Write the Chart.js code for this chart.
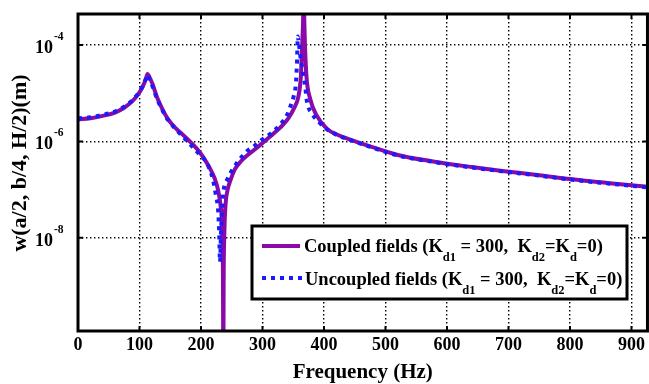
<!DOCTYPE html>
<html>
<head>
<meta charset="utf-8">
<script src="https://cdn.jsdelivr.net/npm/chart.js@4.4.1/dist/chart.umd.min.js"></script>
<style>
    body { margin: 0; background: #fff; }
</style>
</head>
<body>
<canvas id="freq_chart" width="649" height="384"></canvas>
<script>
//Данные
var coupled_freq = [0, 20, 40, 60, 75, 88, 98, 105, 110, 113, 116, 121, 129, 138, 146, 160, 172, 185, 200, 212, 222, 228, 232, 234.5, 235.8, 236.3, 236.8, 238, 240, 243, 248, 255, 265, 275, 290, 302, 315, 330, 342, 351, 358.5, 362.4, 364.6, 366, 367, 368, 369, 371.5, 377.6, 388, 405, 420, 438, 470, 520, 580, 640, 690, 750, 800, 860, 926];
var coupled_w = [2.88e-6, 3.02e-6, 3.39e-6, 3.98e-6, 5.01e-6, 6.76e-6, 9.55e-6, 1.35e-5, 1.91e-5, 2.51e-5, 2.19e-5, 1.58e-5, 7.94e-6, 4.47e-6, 2.95e-6, 1.82e-6, 1.32e-6, 9.12e-7, 5.50e-7, 3.16e-7, 1.74e-7, 9.55e-8, 4.47e-8, 1.58e-8, 1.0e-9, 1e-11, 1.0e-9, 1.26e-8, 5.01e-8, 9.55e-8, 1.58e-7, 2.63e-7, 3.89e-7, 5.13e-7, 7.24e-7, 9.77e-7, 1.35e-6, 2.00e-6, 3.02e-6, 4.79e-6, 8.71e-6, 2.24e-5, 1.07e-4, 3.16e-4, 1.58e-3, 3.16e-4, 1.07e-4, 2.24e-5, 7.59e-6, 3.47e-6, 1.82e-6, 1.41e-6, 1.15e-6, 8.32e-7, 5.25e-7, 3.80e-7, 2.95e-7, 2.45e-7, 2.00e-7, 1.66e-7, 1.38e-7, 1.15e-7];

var uncoupled_freq = [0, 20, 40, 60, 75, 88, 98, 105, 110, 113, 116, 121, 129, 138, 146, 160, 172, 189, 200, 208, 219, 224, 228, 229.5, 231, 232.5, 234.5, 236.8, 243, 250.4, 261, 275, 288, 300, 313, 330, 340, 346, 351, 354, 356, 357.5, 359, 362.4, 365.7, 369.5, 372, 381, 392, 405, 420, 438, 470, 520, 580, 640, 690, 750, 800, 860, 926];
var uncoupled_w = [3.02e-6, 3.16e-6, 3.55e-6, 4.17e-6, 5.25e-6, 7.08e-6, 1.0e-5, 1.38e-5, 1.95e-5, 2.40e-5, 2.0e-5, 1.41e-5, 7.41e-6, 4.27e-6, 2.82e-6, 1.74e-6, 1.20e-6, 7.08e-7, 5.01e-7, 3.80e-7, 1.70e-7, 7.94e-8, 3.47e-8, 1.35e-8, 3.16e-9, 1.26e-8, 4.47e-8, 9.77e-8, 1.66e-7, 2.51e-7, 3.98e-7, 6.31e-7, 8.32e-7, 1.10e-6, 1.45e-6, 2.34e-6, 3.55e-6, 5.62e-6, 8.91e-6, 1.45e-5, 3.98e-5, 1.51e-4, 1.12e-4, 4.90e-5, 2.82e-5, 1.38e-5, 7.08e-6, 3.72e-6, 2.51e-6, 1.78e-6, 1.38e-6, 1.12e-6, 8.13e-7, 5.13e-7, 3.72e-7, 2.88e-7, 2.40e-7, 1.95e-7, 1.62e-7, 1.35e-7, 1.12e-7];

var x_ticks = [0, 100, 200, 300, 400, 500, 600, 700, 800, 900];
var y_ticks = [1e-8, 1e-6, 1e-4];

var legend_coupled = ['Coupled fields (K', 'd1', ' = 300,  K', 'd2', '=K', 'd', '=0)'];
var legend_uncoupled = ['Uncoupled fields (K', 'd1', ' = 300,  K', 'd2', '=K', 'd', '=0)'];

var purple = '#8a0aa8';
var blue = '#1a1aff';
var serif = '"Liberation Serif", "Times New Roman", serif';

function toPoints(xs, ys) {
    var pts = [];
    for (var i = 0; i < xs.length; i++) pts.push({x: xs[i], y: ys[i]});
    return pts;
}

// текст с подстрочными индексами (нечетные элементы - индексы)
function drawSubText(ctx, parts, x, y) {
    for (var i = 0; i < parts.length; i++) {
        var sub = i % 2 == 1;
        ctx.font = 'bold ' + (sub ? '12.5px ' : '18.5px ') + serif;
        ctx.fillText(parts[i], x, sub ? y + 9 : y);
        x += ctx.measureText(parts[i]).width;
    }
}

/* --------------------- рамка, подписи оси Y, легенда --------------------- */
var framePlugin = {
    id: 'frame',
    afterDraw: function (chart) {
        var ctx = chart.ctx;
        var a = chart.chartArea;
        var xs = chart.scales.x, ys = chart.scales.y;
        ctx.save();
        ctx.fillStyle = '#000';
        ctx.strokeStyle = '#000';

        // риски
        ctx.lineWidth = 2;
        x_ticks.forEach(function (v) {
            var px = xs.getPixelForValue(v);
            ctx.beginPath();
            ctx.moveTo(px, a.bottom); ctx.lineTo(px, a.bottom - 5);
            ctx.moveTo(px, a.top); ctx.lineTo(px, a.top + 5);
            ctx.stroke();
        });
        y_ticks.forEach(function (v) {
            var py = ys.getPixelForValue(v);
            ctx.beginPath();
            ctx.moveTo(a.left, py); ctx.lineTo(a.left + 5, py);
            ctx.moveTo(a.right, py); ctx.lineTo(a.right - 5, py);
            ctx.stroke();

            // подписи 10^n
            var exp = Math.round(Math.log10(v));
            ctx.textBaseline = 'alphabetic';
            ctx.textAlign = 'right';
            ctx.font = 'bold 18px ' + serif;
            ctx.fillText('10', a.left - 25, py + 8);
            ctx.textAlign = 'left';
            ctx.font = 'bold 11.5px ' + serif;
            ctx.fillText(String(exp), a.left - 24, py - 5);
        });

        // рамка
        ctx.lineWidth = 3;
        ctx.strokeRect(a.left, a.top, a.right - a.left, a.bottom - a.top);

        // название оси Y
        ctx.save();
        ctx.translate(20, 163);
        ctx.rotate(-Math.PI / 2);
        ctx.textAlign = 'center';
        ctx.textBaseline = 'middle';
        ctx.font = 'bold 22px ' + serif;
        ctx.fillText('w(a/2, b/4, H/2)(m)', 0, 0);
        ctx.restore();

        // легенда
        ctx.fillStyle = '#fff';
        ctx.fillRect(252, 226, 375, 73);
        ctx.lineWidth = 3;
        ctx.strokeRect(252, 226, 375, 73);

        ctx.lineWidth = 4;
        ctx.strokeStyle = purple;
        ctx.beginPath(); ctx.moveTo(262, 246); ctx.lineTo(300, 246); ctx.stroke();
        ctx.strokeStyle = blue;
        ctx.setLineDash([4, 5]);
        ctx.beginPath(); ctx.moveTo(262, 278); ctx.lineTo(302, 278); ctx.stroke();
        ctx.setLineDash([]);

        ctx.fillStyle = '#000';
        ctx.textAlign = 'left';
        ctx.textBaseline = 'alphabetic';
        drawSubText(ctx, legend_coupled, 304, 252);
        drawSubText(ctx, legend_uncoupled, 305, 285);
        ctx.restore();
    }
};

var ctx = document.getElementById('freq_chart').getContext('2d');
var chart = new Chart(ctx, {
    type: 'line',
    data: {
        datasets: [{
            label: 'Coupled fields (Kd1 = 300, Kd2=Kd=0)',
            data: toPoints(coupled_freq, coupled_w),
            borderColor: purple,
            borderWidth: 4,
            pointRadius: 0,
            fill: false,
            cubicInterpolationMode: 'monotone',
            clip: 0,
            order: 1
        }, {
            label: 'Uncoupled fields (Kd1 = 300, Kd2=Kd=0)',
            data: toPoints(uncoupled_freq, uncoupled_w),
            borderColor: blue,
            borderWidth: 4,
            borderDash: [4, 5],
            borderCapStyle: 'butt',
            pointRadius: 0,
            fill: false,
            cubicInterpolationMode: 'monotone',
            clip: 0,
            order: 0
        }]
    },
    options: {
        responsive: false,
        animation: false,
        layout: { padding: { left: 0, top: 14, right: 1, bottom: 0 } },
        plugins: {
            legend: { display: false },
            tooltip: { enabled: false }
        },
        scales: {
            x: {
                type: 'linear',
                min: 0,
                max: 926,
                afterBuildTicks: function (s) { s.ticks = x_ticks.map(function (v) { return {value: v}; }); },
                afterFit: function (s) { s.height = 53; },
                ticks: {
                    color: '#000',
                    padding: 4,
                    maxRotation: 0,
                    autoSkip: false,
                    font: { family: serif, size: 18, weight: 'bold' }
                },
                grid: { color: '#000', lineWidth: 1.4, drawTicks: false },
                border: { display: false, dash: [1.4, 2.6] },
                title: {
                    display: true,
                    text: 'Frequency (Hz)',
                    color: '#000',
                    font: { family: serif, size: 21, weight: 'bold', lineHeight: 1 },
                    padding: { top: 0, bottom: 1 }
                }
            },
            y: {
                type: 'logarithmic',
                min: 1.17e-10,
                max: 4.4e-4,
                afterBuildTicks: function (s) { s.ticks = y_ticks.map(function (v) { return {value: v}; }); },
                afterFit: function (s) { s.width = 78; },
                ticks: { display: false },
                grid: { color: '#000', lineWidth: 1.4, drawTicks: false },
                border: { display: false, dash: [1.4, 2.6] }
            }
        }
    },
    plugins: [framePlugin]
});
</script>
</body>
</html>
